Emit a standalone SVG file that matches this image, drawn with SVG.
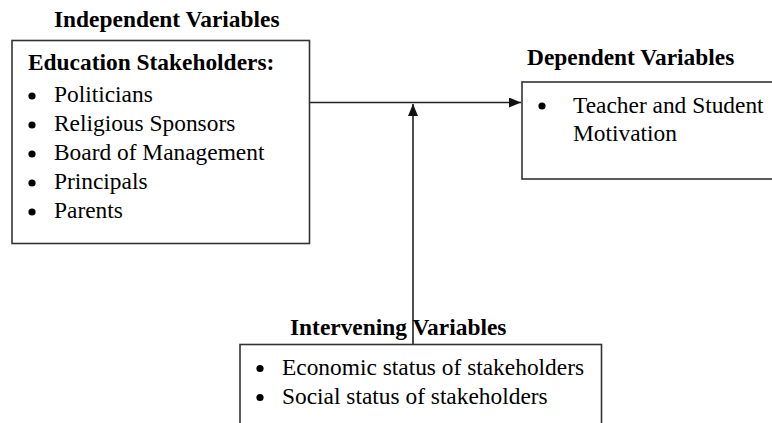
<svg xmlns="http://www.w3.org/2000/svg" width="772" height="423" viewBox="0 0 772 423">
<style>
  .t{font-family:"Liberation Serif","Times New Roman",serif;font-size:23.4px;fill:#000}
  .b{font-weight:bold}
  .box{fill:#fff;stroke:#333;stroke-width:1.6}
  .line{stroke:#222;stroke-width:1.6;fill:none}
  .dot{fill:#000}
</style>
<defs>
  <marker id="ah" viewBox="0 0 12 10" refX="12" refY="5" markerWidth="12" markerHeight="10" markerUnits="userSpaceOnUse" orient="auto">
    <path d="M0,0 L12,5 L0,10 Z" fill="#111"/>
  </marker>
</defs>
<rect width="772" height="423" fill="#fff"/>
<g id="connectors">
  <line class="line" x1="310" y1="102.5" x2="521" y2="102.5" marker-end="url(#ah)"/>
  <line class="line" x1="413" y1="344" x2="413" y2="104" marker-end="url(#ah)"/>
</g>
<g id="independent">
  <text class="t b" x="54" y="26.5">Independent Variables</text>
  <rect class="box" x="12" y="40.5" width="297.5" height="203"/>
  <text class="t b" x="28" y="70">Education Stakeholders:</text>
  <circle class="dot" cx="32" cy="96" r="3.6"/>
  <text class="t" x="54" y="102">Politicians</text>
  <circle class="dot" cx="32" cy="125" r="3.6"/>
  <text class="t" x="54" y="131">Religious Sponsors</text>
  <circle class="dot" cx="32" cy="154" r="3.6"/>
  <text class="t" x="54" y="160">Board of Management</text>
  <circle class="dot" cx="32" cy="183" r="3.6"/>
  <text class="t" x="54" y="189">Principals</text>
  <circle class="dot" cx="32" cy="212" r="3.6"/>
  <text class="t" x="54" y="218">Parents</text>
</g>
<g id="dependent">
  <text class="t b" x="527" y="65">Dependent Variables</text>
  <rect class="box" x="522" y="82" width="260" height="97"/>
  <circle class="dot" cx="542" cy="106" r="3.6"/>
  <text class="t" x="573" y="113">Teacher and Student</text>
  <text class="t" x="573" y="141">Motivation</text>
</g>
<g id="intervening">
  <rect class="box" x="240" y="344.5" width="361.5" height="90"/>
  <text class="t b" x="290" y="335">Intervening Variables</text>
  <circle class="dot" cx="260" cy="368.5" r="3.6"/>
  <text class="t" x="282" y="375">Economic status of stakeholders</text>
  <circle class="dot" cx="260" cy="397.5" r="3.6"/>
  <text class="t" x="282" y="404">Social status of stakeholders</text>
</g>
</svg>
